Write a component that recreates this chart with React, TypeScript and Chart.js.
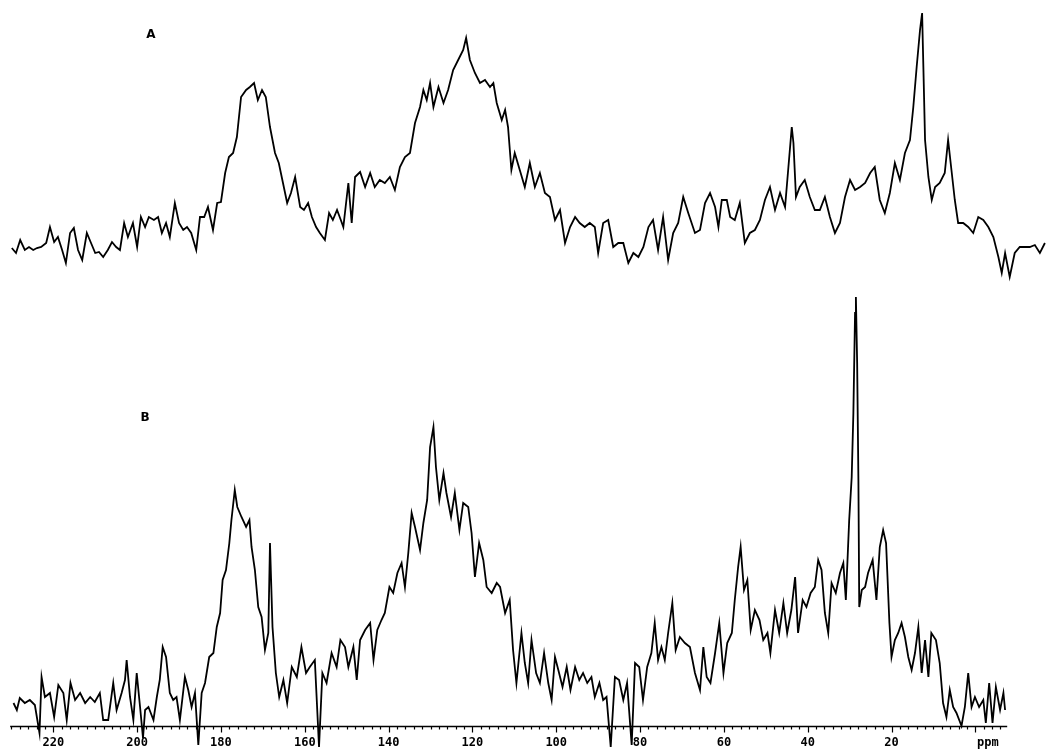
import React, { useEffect, useRef } from 'react';
import { Chart, registerables } from 'chart.js';

Chart.register(...registerables);

// ---- Spectrum A (chemical shift, ppm) ----
const ppmA = [
  229.9, 228.9, 227.9, 226.8, 225.8, 224.8, 223.9, 222.9, 221.7, 220.8,
  219.8, 218.9, 217.9, 217.0, 216.0, 215.1, 214.1, 213.1, 212.0, 211.0,
  210.0, 209.1, 208.1, 207.0, 206.0, 205.0, 204.1, 203.1, 202.2, 201.0,
  200.0, 199.1, 198.1, 197.2, 196.0, 195.0, 194.1, 193.1, 192.2, 191.0,
  190.0, 189.0, 188.1, 187.1, 185.9, 185.0, 184.0, 183.1, 181.9, 180.9,
  180.0, 179.0, 178.1, 177.1, 176.2, 175.2, 174.0, 173.1, 172.1, 171.2,
  170.2, 169.3, 168.3, 167.1, 166.2, 165.2, 164.2, 163.3, 162.3, 161.1,
  160.2, 159.2, 158.3, 157.3, 156.4, 155.2, 154.2, 153.3, 152.3, 151.4,
  150.8, 149.6, 148.8, 148.0, 146.8, 145.6, 144.4, 143.3, 142.1, 140.9,
  139.7, 138.5, 137.3, 136.1, 134.9, 133.7, 132.5, 131.7, 130.9, 130.1,
  129.3, 128.1, 126.9, 125.8, 124.6, 123.4, 122.2, 121.5, 120.6, 119.4,
  118.2, 117.0, 115.8, 115.0, 114.2, 113.0, 112.2, 111.5, 110.7, 109.9,
  108.7, 107.5, 106.3, 105.1, 103.9, 102.7, 101.5, 100.3, 99.1, 97.9,
  96.7, 95.5, 94.4, 93.2, 92.0, 90.8, 90.0, 88.8, 87.6, 86.4,
  85.2, 84.0, 82.8, 81.6, 80.4, 79.2, 78.0, 76.9, 75.7, 74.5,
  73.3, 72.1, 70.9, 69.7, 68.5,
  66.9, 65.7, 64.5, 63.3, 62.1, 61.3, 60.5, 59.3, 58.5, 57.4,
  56.2, 55.0, 53.8, 52.6, 51.4, 50.2, 49.0, 47.8, 46.6, 45.4,
  44.6, 43.8, 43.4, 42.8, 41.9, 40.7, 39.5, 38.3, 37.1, 35.9,
  34.7, 33.5, 32.3, 31.1, 29.9, 28.7, 27.5, 26.3, 25.1, 24.0,
  22.8, 21.6, 20.4, 19.2, 18.0, 16.8, 15.6, 14.8, 14.0, 13.2,
  12.7, 12.4, 12.0, 11.2, 10.4, 9.6, 8.5, 7.3, 6.5, 5.7,
  4.9, 4.1, 2.9, 1.7, 0.5, -0.7, -1.9, -3.1, -4.3, -5.5,
  -6.3, -7.1, -8.2, -9.4, -10.6, -11.8, -13.0, -14.2, -15.4, -16.6,
];
const intA = [
  32, 27, 40, 30, 33, 30, 32, 33, 37, 53,
  38, 43, 30, 17, 47, 52, 30, 20, 47, 37,
  27, 28, 23, 30, 38, 33, 30, 57, 43, 57,
  33, 63, 53, 63, 60, 63, 47, 57, 43, 77,
  57, 50, 53, 47, 30, 63, 63, 73, 50, 77,
  78, 107, 123, 127, 143, 183, 190, 193, 197, 180,
  190, 183, 153, 127, 117, 97, 77, 87, 103, 73,
  70, 77, 63, 53, 47, 40, 67, 60, 70, 60,
  53, 97, 57, 103, 108, 93, 107, 93, 100, 97,
  103, 90, 113, 123, 127, 157, 173, 190, 180, 197,
  173, 193, 177, 190, 210, 220, 230, 242, 220, 207,
  197, 200, 193, 197, 177, 160, 170, 153, 110, 127,
  110, 93, 117, 93, 107, 87, 83, 60, 70, 37,
  53, 63, 57, 53, 57, 53, 27, 57, 60, 33,
  37, 37, 17, 27, 23, 33, 53, 60, 30, 63,
  20, 47, 57, 83, 67,
  47, 50, 77, 87, 73, 53, 80, 80, 63, 60,
  77, 37, 47, 50, 60, 80, 93, 70, 87, 73,
  113, 153, 137, 83, 93, 100, 83, 70, 70, 83,
  63, 47, 57, 83, 100, 90, 93, 97, 107, 113,
  80, 67, 87, 117, 100, 127, 140, 173, 213, 250,
  267, 213, 140, 103, 80, 93, 97, 107, 140, 110,
  80, 57, 57, 53, 47, 63, 60, 53, 43, 23,
  7, 27, 3, 27, 33, 33, 33, 35, 27, 37,
];

// ---- Spectrum B ----
const ppmB = [
  229.5, 228.7, 228.0, 226.8, 225.6, 224.4, 223.3, 222.8, 222.0, 220.8,
  219.8, 218.8, 217.6, 216.8, 215.9, 214.8, 213.6, 212.4, 211.2, 210.1,
  208.9, 208.1, 206.9, 205.7, 204.9, 203.7, 202.9, 202.5, 201.7, 200.9,
  200.1, 199.3, 198.6, 198.1, 197.3, 196.1, 195.3, 194.6, 193.9, 193.1,
  192.2, 191.4, 190.6, 189.8, 188.6, 187.8, 187.0, 186.2, 185.4, 184.6,
  183.8, 182.8, 181.8, 181.0, 180.2, 179.6, 178.8, 178.0, 177.5, 176.7,
  176.1, 175.1, 174.0, 173.2, 172.7, 171.9, 171.1, 170.3, 169.5, 168.7,
  168.3, 167.7, 166.9, 166.1, 165.1, 164.2, 163.1, 161.9, 160.8, 159.7,
  158.8, 157.6, 156.6, 155.8, 154.8, 153.6, 152.4, 151.5, 150.4,
  149.6, 148.4, 147.6, 146.8, 145.6, 144.4, 143.6, 142.7, 141.7, 140.9,
  139.8, 138.9, 137.9, 136.9, 136.1, 135.3, 134.5, 133.7, 132.5, 131.7,
  130.8, 130.1, 129.3, 128.7, 127.9, 126.9, 126.2, 125.1, 124.2, 123.1,
  122.2, 121.0, 120.2, 119.4, 118.4, 117.4, 116.6, 115.4, 114.2, 113.4,
  112.2, 111.1, 110.3, 109.5, 108.3, 107.5, 106.7, 105.9, 104.8, 103.9,
  102.9, 101.9, 101.1, 100.3, 99.5, 98.5, 97.5, 96.6, 95.5, 94.5,
  93.6, 92.6, 91.6, 90.8, 89.7, 88.8, 88.0, 87.0, 86.0, 85.0,
  84.0, 83.1, 82.0, 81.2, 80.2, 79.3, 78.3, 77.3, 76.5, 75.7,
  74.9, 74.1, 73.3, 72.3, 71.5, 70.5, 69.3,
  68.1, 66.9, 65.7, 64.9, 64.1, 63.2, 62.1, 61.1, 60.1, 59.2,
  58.1, 57.4, 56.6, 56.0, 55.2, 54.4, 53.6, 52.6, 51.5, 50.6,
  49.6, 48.9, 47.8, 46.8, 45.8, 44.9, 43.9, 43.0, 42.3, 41.2,
  40.3, 39.3, 38.3, 37.5, 36.7, 35.9, 35.1, 34.3, 33.3, 32.3,
  31.5, 30.9, 30.1, 29.5, 29.1, 28.7, 28.5, 28.2, 27.9, 27.7,
  27.1, 26.3, 25.6, 24.5, 23.6, 22.8, 22.0, 21.3, 20.5, 20.0,
  19.2, 18.4, 17.6, 16.8, 16.0, 15.2, 14.4, 13.6, 12.8, 12.0,
  11.2, 10.5, 9.4, 8.5, 7.7, 6.9, 6.1, 5.3, 4.5, 3.3,
  2.5, 1.7, 0.9, 0.1, -0.9, -1.9, -2.5, -3.3, -4.1, -4.9,
  -5.9, -6.7, -7.1,
];
const intB = [
  46, 39, 51, 46, 49, 44, 16, 72, 52, 56,
  32, 64, 56, 29, 66, 49, 56, 46, 52, 47,
  56, 29, 29, 66, 39, 56, 69, 89, 52, 29,
  76, 42, 11, 39, 42, 29, 52, 69, 102, 92,
  56, 49, 52, 29, 72, 59, 42, 56, 4, 56,
  66, 92, 96, 122, 136, 169, 179, 206, 229, 259,
  242, 232, 222, 229, 202, 179, 142, 132, 99, 116,
  206, 122, 76, 52, 69, 46, 82, 72, 102, 76,
  82, 89, 2, 76, 66, 96, 82, 109, 102,
  82, 102, 69, 109, 119, 126, 89, 119, 129, 136,
  162, 156, 176, 186, 162, 196, 236, 222, 199, 226,
  249, 302, 322, 282, 249, 276, 256, 232, 256, 219,
  246, 242, 216, 172, 206, 189, 162, 156, 166, 162,
  136, 149, 99, 66, 116, 86, 66, 109, 76, 66,
  96, 66, 49, 92, 79, 62, 82, 59, 82, 69,
  76, 66, 72, 52, 66, 49, 52, 2, 72, 69,
  49, 66, 4, 86, 82, 49, 82, 96, 126, 89,
  102, 89, 116, 146, 99, 112, 106,
  102, 76, 59, 102, 72, 66, 96, 126, 76, 106,
  116, 149, 182, 202, 159, 169, 119, 139, 129, 109,
  116, 96, 139, 116, 146, 116, 139, 172, 116, 149,
  142, 156, 162, 189, 179, 136, 116, 166, 156, 176,
  186, 149, 229, 272, 336, 436, 452, 386, 269, 142,
  159, 162, 176, 189, 149, 202, 219, 206, 126, 92,
  109, 116, 126, 112, 92, 79, 96, 122, 76, 109,
  72, 116, 109, 86, 46, 32, 59, 42, 36, 23,
  42, 76, 42, 52, 42, 49, 26, 66, 26, 62,
  39, 56, 39,
];

// ---- Axis ----
const TICK_LABELS = [220, 200, 180, 160, 140, 120, 100, 80, 60, 40, 20];
const UNIT_LABEL = 'ppm';
const UNIT_AT = -3;
const AXIS_FROM = 230.3;
const AXIS_TO = -7.6;
const AXIS_BASE = 23;
const A_OFFSET = 469;
const X_MIN = -16.86;
const X_MAX = 232.72;
const Y_MAX = 749;
const TRACE_LABELS = [
  { text: 'A', ppm: 196.7, y: 714 },
  { text: 'B', ppm: 198.1, y: 331 },
];

export default function App() {
  const ref = useRef<HTMLCanvasElement>(null);

  useEffect(() => {
    const canvas = ref.current;
    if (!canvas) return;

    const mk = (xs: number[], ys: number[], off: number) => {
      const n = Math.min(xs.length, ys.length);
      const out: { x: number; y: number }[] = [];
      for (let i = 0; i < n; i++) out.push({ x: xs[i], y: ys[i] + off });
      return out;
    };

    const axisPlugin = {
      id: 'ppmAxis',
      afterDatasetsDraw(chart: any) {
        const { ctx } = chart;
        const xs = chart.scales.x;
        const ys = chart.scales.y;
        const y0 = Math.round(ys.getPixelForValue(AXIS_BASE)) + 0.5;
        ctx.save();
        ctx.strokeStyle = '#000';
        ctx.fillStyle = '#000';
        ctx.lineWidth = 1.5;
        ctx.beginPath();
        ctx.moveTo(xs.getPixelForValue(AXIS_FROM), y0);
        ctx.lineTo(xs.getPixelForValue(AXIS_TO), y0);
        ctx.stroke();
        ctx.lineWidth = 1.2;
        for (let p = 230; p >= -6; p -= 2) {
          const major = p % 20 === 0;
          const px = Math.round(xs.getPixelForValue(p)) + 0.5;
          ctx.beginPath();
          ctx.moveTo(px, y0);
          ctx.lineTo(px, y0 + (major ? 6 : 3));
          ctx.stroke();
        }
        ctx.font = "bold 12px 'DejaVu Sans Mono'";
        ctx.textAlign = 'center';
        ctx.textBaseline = 'middle';
        TICK_LABELS.forEach((t) => {
          ctx.fillText(String(t), xs.getPixelForValue(t), y0 + 16);
        });
        ctx.fillText(UNIT_LABEL, xs.getPixelForValue(UNIT_AT), y0 + 16);
        ctx.font = "bold 12px 'DejaVu Sans'";
        TRACE_LABELS.forEach((l) => {
          ctx.fillText(l.text, xs.getPixelForValue(l.ppm), ys.getPixelForValue(l.y));
        });
        ctx.restore();
      },
    };

    const chart = new Chart(canvas, {
      type: 'line',
      data: {
        datasets: [
          {
            label: 'A',
            data: mk(ppmA, intA, A_OFFSET),
            borderColor: '#000',
            borderWidth: 1.8,
            pointRadius: 0,
            fill: false,
            tension: 0,
          },
          {
            label: 'B',
            data: mk(ppmB, intB, 0),
            borderColor: '#000',
            borderWidth: 1.8,
            pointRadius: 0,
            fill: false,
            tension: 0,
          },
        ],
      },
      options: {
        animation: false,
        responsive: false,
        maintainAspectRatio: false,
        layout: { padding: 0 },
        plugins: {
          legend: { display: false },
          tooltip: { enabled: false },
          title: { display: false },
        },
        scales: {
          x: { type: 'linear', min: X_MIN, max: X_MAX, reverse: true, display: false },
          y: { type: 'linear', min: 0, max: Y_MAX, display: false },
        },
      },
      plugins: [axisPlugin],
    } as any);

    return () => chart.destroy();
  }, []);

  return (
    <div style={{ position: 'fixed', left: 0, top: 0, width: 1046, height: 749, background: '#fff' }}>
      <canvas ref={ref} width={1046} height={749} style={{ display: 'block', width: 1046, height: 749 }} />
    </div>
  );
}
